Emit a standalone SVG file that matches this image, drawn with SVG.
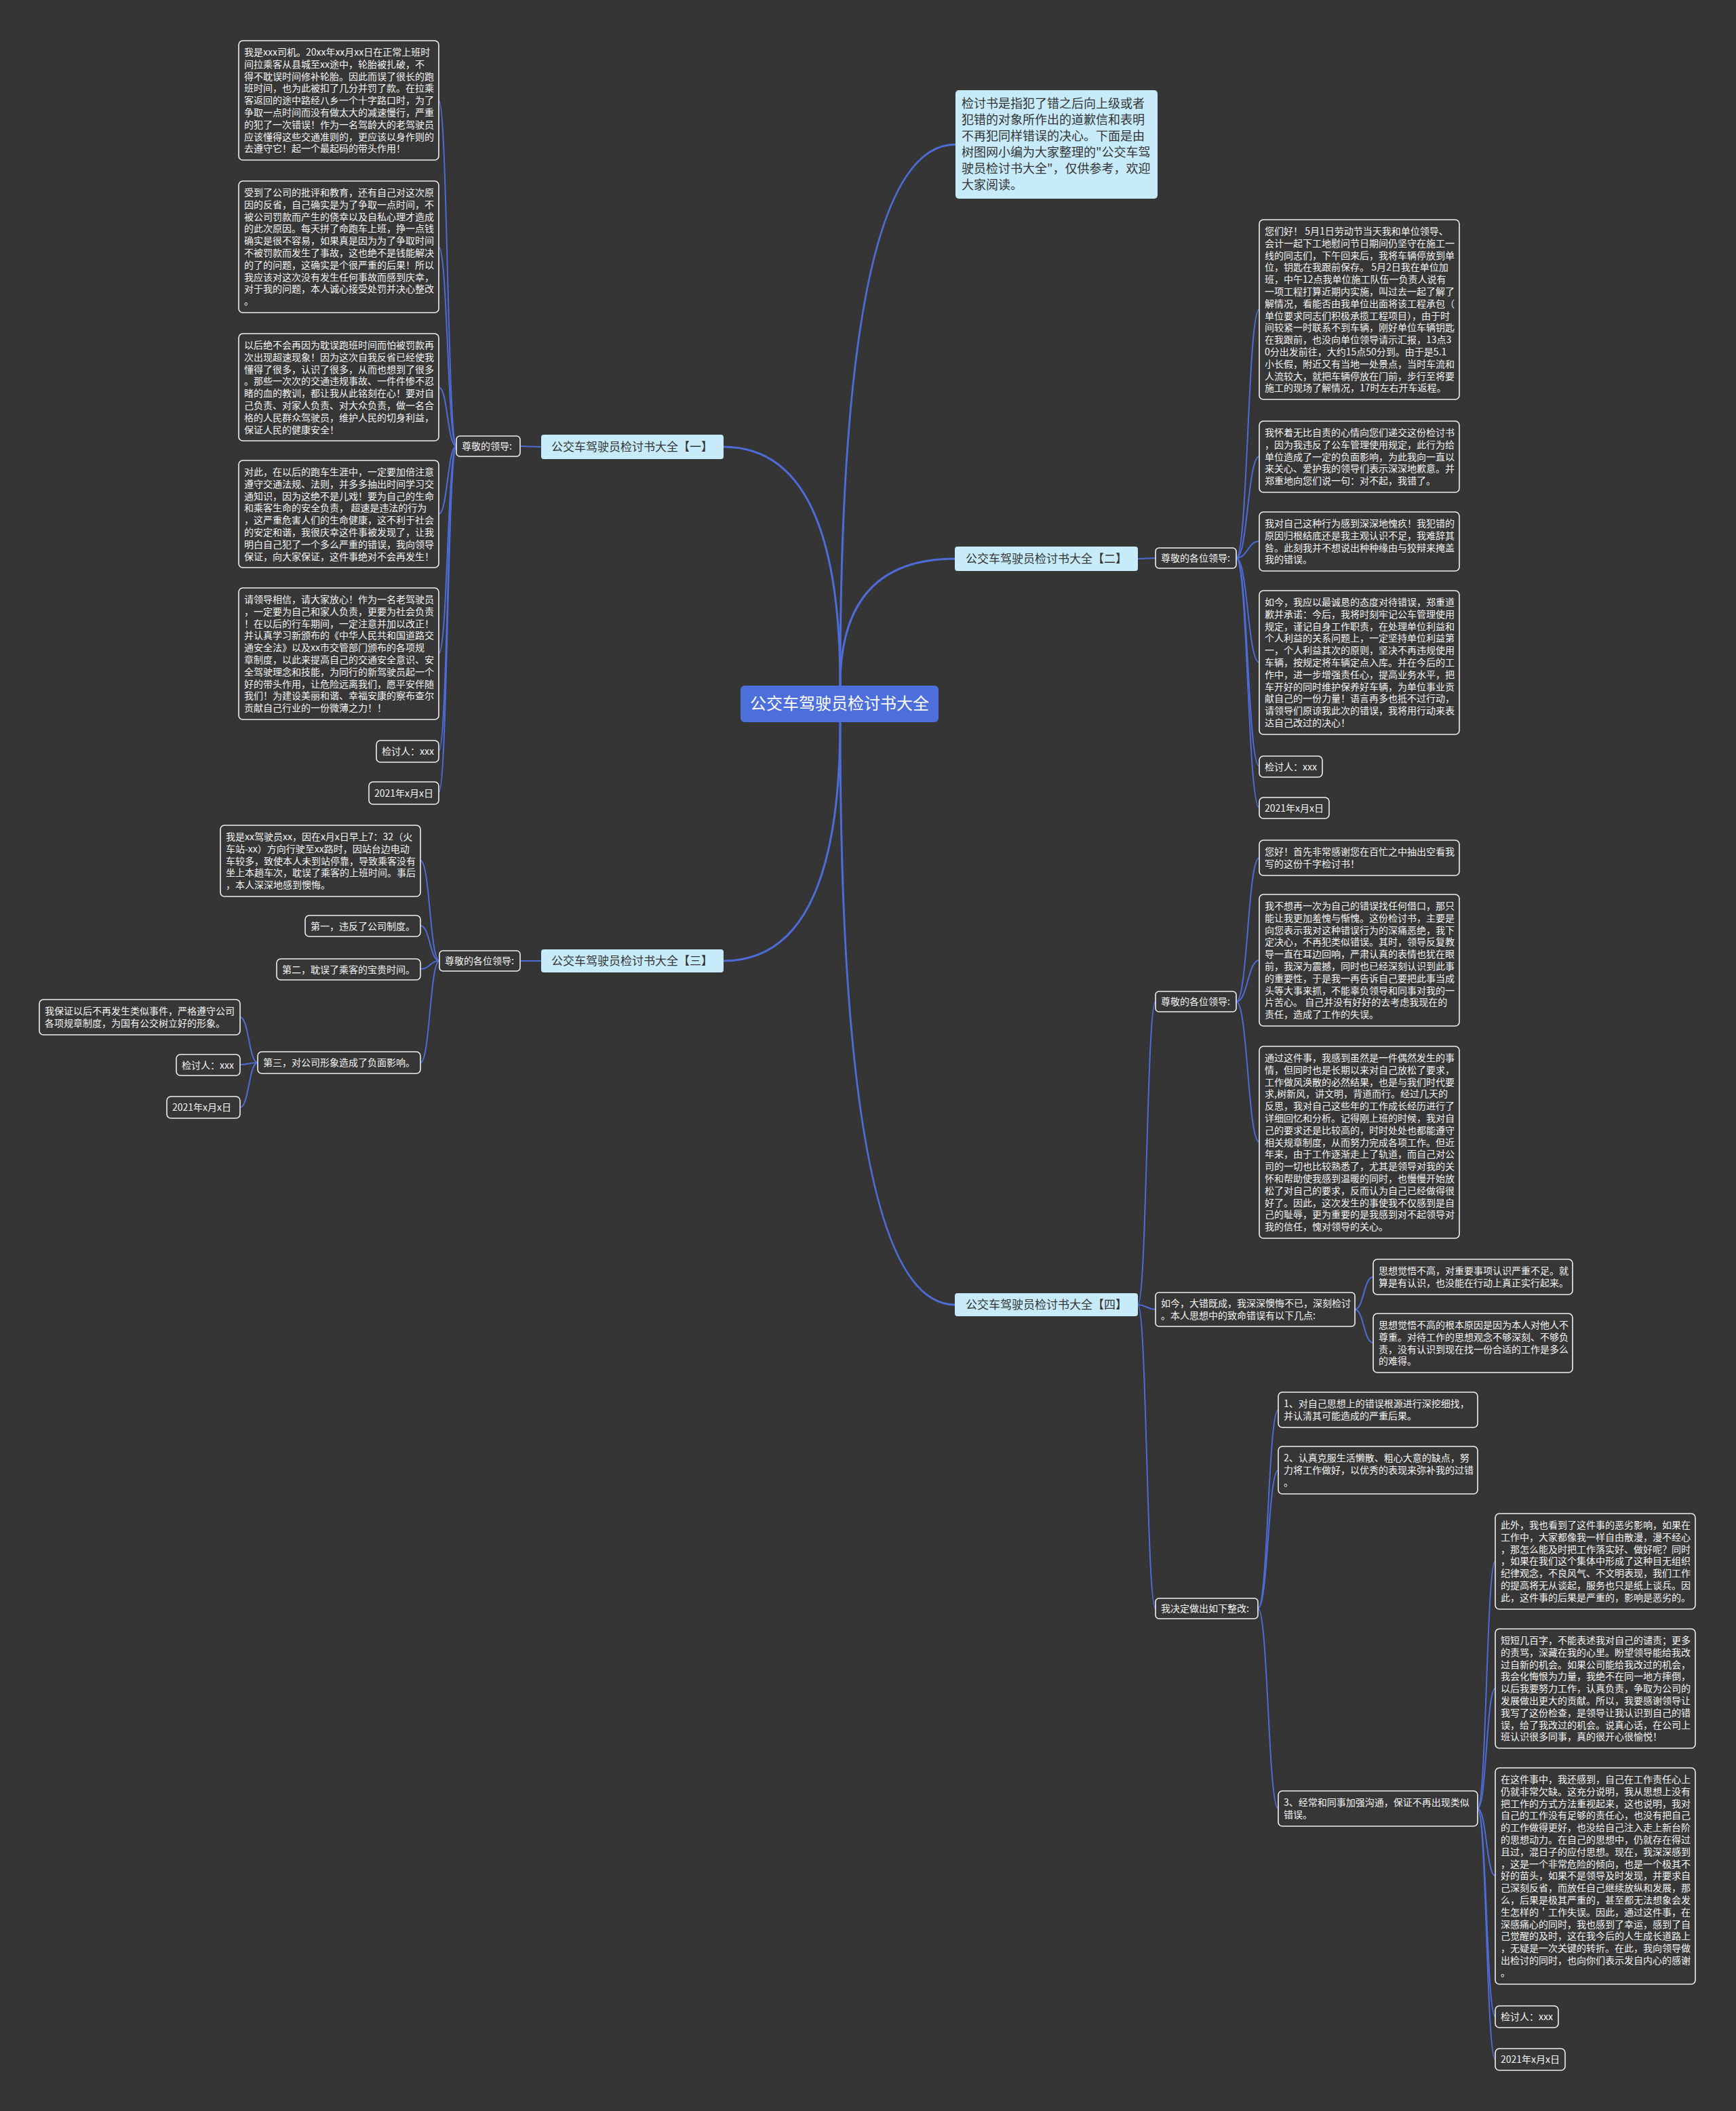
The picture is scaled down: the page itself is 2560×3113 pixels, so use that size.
<svg xmlns="http://www.w3.org/2000/svg" width="2560" height="3113" viewBox="0 0 2560 3113">
<style>
.bg{fill:#353535}
.box{fill:#363636;stroke:#f0f0f0;stroke-width:1.6}
.t{font-family:"Noto Sans CJK SC","Noto Sans",sans-serif;font-size:14px;fill:#f4f4f4}
.br{fill:#c8ebfa}
.bt{font-family:"Noto Sans CJK SC","Noto Sans",sans-serif;font-size:17px;fill:#333333;text-anchor:middle}
.it{font-family:"Noto Sans CJK SC","Noto Sans",sans-serif;font-size:18px;fill:#333333}
.ct{font-family:"Noto Sans CJK SC","Noto Sans",sans-serif;font-size:24px;fill:#ffffff;text-anchor:middle}
.c{fill:none;stroke:#4e6cd8;stroke-width:2}
.cm{fill:none;stroke:#4e6cd8;stroke-width:3}
</style>
<rect class="bg" x="0" y="0" width="2560" height="3113"/>

<g id="connectors">
<path class="cm" d="M1239,1011 Q1239,213 1409,213"/>
<path class="cm" d="M1239,1011 Q1239,659 1067,659"/>
<path class="cm" d="M1239,1011 Q1239,824 1408,824"/>
<path class="cm" d="M1239,1065 Q1239,1417 1067,1417"/>
<path class="cm" d="M1239,1065 Q1239,1924 1408,1924"/>
<!-- section 1 -->
<path class="c" d="M798,659 L767,658"/>
<path class="c" d="M673,658 C660,658 660,148 647,148"/>
<path class="c" d="M673,658 C660,658 660,364 647,364"/>
<path class="c" d="M673,658 C660,658 660,571 647,571"/>
<path class="c" d="M673,658 C660,658 660,758 647,758"/>
<path class="c" d="M673,658 C660,658 660,964 647,964"/>
<path class="c" d="M673,658 C660,658 660,1108 647,1108"/>
<path class="c" d="M673,658 C660,658 660,1169 647,1169"/>
<!-- section 2 -->
<path class="c" d="M1678,824 L1704,823"/>
<path class="c" d="M1823,823 C1840,823 1840,456 1857,456"/>
<path class="c" d="M1823,823 C1840,823 1840,673 1857,673"/>
<path class="c" d="M1823,823 C1840,823 1840,798 1857,798"/>
<path class="c" d="M1823,823 C1840,823 1840,977 1857,977"/>
<path class="c" d="M1823,823 C1840,823 1840,1130 1857,1130"/>
<path class="c" d="M1823,823 C1840,823 1840,1191 1857,1191"/>
<!-- section 3 -->
<path class="c" d="M798,1417 L767,1417"/>
<path class="c" d="M648,1417 C634,1417 634,1269 620,1269"/>
<path class="c" d="M648,1417 C634,1417 634,1365 620,1365"/>
<path class="c" d="M648,1417 C634,1417 634,1429 620,1429"/>
<path class="c" d="M648,1417 C634,1417 634,1567 620,1567"/>
<path class="c" d="M380,1567 C367,1567 367,1500 354,1500"/>
<path class="c" d="M380,1567 C367,1567 367,1570 354,1570"/>
<path class="c" d="M380,1567 C367,1567 367,1633 354,1633"/>
<!-- section 4 -->
<path class="c" d="M1678,1924 C1691,1924 1691,1477 1704,1477"/>
<path class="c" d="M1678,1924 C1691,1924 1691,1931 1704,1931"/>
<path class="c" d="M1678,1924 C1691,1924 1691,2372 1704,2372"/>
<path class="c" d="M1823,1477 C1840,1477 1840,1265 1857,1265"/>
<path class="c" d="M1823,1477 C1840,1477 1840,1416 1857,1416"/>
<path class="c" d="M1823,1477 C1840,1477 1840,1684 1857,1684"/>
<path class="c" d="M1998,1931 C2011,1931 2011,1883 2025,1883"/>
<path class="c" d="M1998,1931 C2011,1931 2011,1980 2025,1980"/>
<path class="c" d="M1855,2372 C1870,2372 1870,2079 1885,2079"/>
<path class="c" d="M1855,2372 C1870,2372 1870,2168 1885,2168"/>
<path class="c" d="M1855,2372 C1870,2372 1870,2667 1885,2667"/>
<path class="c" d="M2179,2667 C2192,2667 2192,2302 2205,2302"/>
<path class="c" d="M2179,2667 C2192,2667 2192,2490 2205,2490"/>
<path class="c" d="M2179,2667 C2192,2667 2192,2766 2205,2766"/>
<path class="c" d="M2179,2667 C2192,2667 2192,2974 2205,2974"/>
<path class="c" d="M2179,2667 C2192,2667 2192,3037 2205,3037"/>
</g>

<g id="center">
<rect x="1092" y="1011" width="292" height="54" rx="6" fill="#4d6fdc"/>
<text class="ct" x="1238" y="1046">公交车驾驶员检讨书大全</text>
</g>

<g id="intro">
<rect class="br" x="1409" y="133" width="298" height="160" rx="5"/>
<text class="it" x="1418" y="159"><tspan x="1418">检讨书是指犯了错之后向上级或者</tspan><tspan x="1418" dy="24">犯错的对象所作出的道歉信和表明</tspan><tspan x="1418" dy="24">不再犯同样错误的决心。下面是由</tspan><tspan x="1418" dy="24">树图网小编为大家整理的"公交车驾</tspan><tspan x="1418" dy="24">驶员检讨书大全"，仅供参考，欢迎</tspan><tspan x="1418" dy="24">大家阅读。</tspan></text>
</g>

<!-- SECTION 1 -->
<g id="branch1">
<rect class="br" x="798" y="641" width="269" height="36" rx="4"/>
<text class="bt" x="932" y="665">公交车驾驶员检讨书大全【一】</text>
</g>
<g id="label1">
<rect class="box" x="673" y="643" width="94" height="30" rx="5"/>
<text class="t" x="681" y="663">尊敬的领导:</text>
</g>
<g id="s1b1">
<rect class="box" x="352" y="60" width="295" height="176" rx="6"/>
<text class="t" x="360" y="82"><tspan x="360">我是xxx司机。20xx年xx月xx日在正常上班时</tspan><tspan x="360" dy="17.8">间拉乘客从县城至xx途中，轮胎被扎破，不</tspan><tspan x="360" dy="17.8">得不耽误时间修补轮胎。因此而误了很长的跑</tspan><tspan x="360" dy="17.8">班时间，也为此被扣了几分并罚了款。在拉乘</tspan><tspan x="360" dy="17.8">客返回的途中路经八乡一个十字路口时，为了</tspan><tspan x="360" dy="17.8">争取一点时间而没有做太大的减速慢行，严重</tspan><tspan x="360" dy="17.8">的犯了一次错误！作为一名驾龄大的老驾驶员</tspan><tspan x="360" dy="17.8">应该懂得这些交通准则的，更应该以身作则的</tspan><tspan x="360" dy="17.8">去遵守它！起一个最起码的带头作用！</tspan></text>
</g>
<g id="s1b2">
<rect class="box" x="352" y="267" width="295" height="194" rx="6"/>
<text class="t" x="360" y="289"><tspan x="360">受到了公司的批评和教育，还有自己对这次原</tspan><tspan x="360" dy="17.8">因的反省，自己确实是为了争取一点时间，不</tspan><tspan x="360" dy="17.8">被公司罚款而产生的侥幸以及自私心理才造成</tspan><tspan x="360" dy="17.8">的此次原因。每天拼了命跑车上班，挣一点钱</tspan><tspan x="360" dy="17.8">确实是很不容易，如果真是因为为了争取时间</tspan><tspan x="360" dy="17.8">不被罚款而发生了事故，这也绝不是钱能解决</tspan><tspan x="360" dy="17.8">的了的问题，这确实是个很严重的后果！所以</tspan><tspan x="360" dy="17.8">我应该对这次没有发生任何事故而感到庆幸，</tspan><tspan x="360" dy="17.8">对于我的问题，本人诚心接受处罚并决心整改</tspan><tspan x="360" dy="17.8">。</tspan></text>
</g>
<g id="s1b3">
<rect class="box" x="352" y="492" width="295" height="158" rx="6"/>
<text class="t" x="360" y="514"><tspan x="360">以后绝不会再因为耽误跑班时间而怕被罚款再</tspan><tspan x="360" dy="17.8">次出现超速现象！因为这次自我反省已经使我</tspan><tspan x="360" dy="17.8">懂得了很多，认识了很多，从而也想到了很多</tspan><tspan x="360" dy="17.8">。那些一次次的交通违规事故、一件件惨不忍</tspan><tspan x="360" dy="17.8">睹的血的教训，都让我从此铭刻在心！要对自</tspan><tspan x="360" dy="17.8">己负责、对家人负责、对大众负责，做一名合</tspan><tspan x="360" dy="17.8">格的人民群众驾驶员，维护人民的切身利益，</tspan><tspan x="360" dy="17.8">保证人民的健康安全！</tspan></text>
</g>
<g id="s1b4">
<rect class="box" x="352" y="679" width="295" height="158" rx="6"/>
<text class="t" x="360" y="701"><tspan x="360">对此，在以后的跑车生涯中，一定要加倍注意</tspan><tspan x="360" dy="17.8">遵守交通法规、法则，并多多抽出时间学习交</tspan><tspan x="360" dy="17.8">通知识，因为这绝不是儿戏！要为自己的生命</tspan><tspan x="360" dy="17.8">和乘客生命的安全负责， 超速是违法的行为</tspan><tspan x="360" dy="17.8">，这严重危害人们的生命健康，这不利于社会</tspan><tspan x="360" dy="17.8">的安定和谐，我很庆幸这件事被发现了，让我</tspan><tspan x="360" dy="17.8">明白自己犯了一个多么严重的错误，我向领导</tspan><tspan x="360" dy="17.8">保证，向大家保证，这件事绝对不会再发生！</tspan></text>
</g>
<g id="s1b5">
<rect class="box" x="352" y="867" width="295" height="194" rx="6"/>
<text class="t" x="360" y="889"><tspan x="360">请领导相信，请大家放心！作为一名老驾驶员</tspan><tspan x="360" dy="17.8">，一定要为自己和家人负责，更要为社会负责</tspan><tspan x="360" dy="17.8">！在以后的行车期间，一定注意并加以改正！</tspan><tspan x="360" dy="17.8">并认真学习新颁布的《中华人民共和国道路交</tspan><tspan x="360" dy="17.8">通安全法》以及xx市交管部门颁布的各项规</tspan><tspan x="360" dy="17.8">章制度，以此来提高自己的交通安全意识、安</tspan><tspan x="360" dy="17.8">全驾驶理念和技能，为同行的新驾驶员起一个</tspan><tspan x="360" dy="17.8">好的带头作用，让危险远离我们，愿平安伴随</tspan><tspan x="360" dy="17.8">我们！为建设美丽和谐、幸福安康的察布查尔</tspan><tspan x="360" dy="17.8">贡献自己行业的一份微薄之力！！</tspan></text>
</g>
<g id="s1b6">
<rect class="box" x="555" y="1092" width="92" height="32" rx="6"/>
<text class="t" x="563" y="1113">检讨人：xxx</text>
</g>
<g id="s1b7">
<rect class="box" x="544" y="1153" width="103" height="33" rx="6"/>
<text class="t" x="552" y="1175">2021年x月x日</text>
</g>

<!-- SECTION 2 -->
<g id="branch2">
<rect class="br" x="1408" y="806" width="270" height="36" rx="4"/>
<text class="bt" x="1543" y="830">公交车驾驶员检讨书大全【二】</text>
</g>
<g id="label2">
<rect class="box" x="1704" y="808" width="119" height="30" rx="5"/>
<text class="t" x="1712" y="828">尊敬的各位领导:</text>
</g>
<g id="s2b1">
<rect class="box" x="1857" y="324" width="295" height="265" rx="6"/>
<text class="t" x="1865" y="346"><tspan x="1865">您们好！ 5月1日劳动节当天我和单位领导、</tspan><tspan x="1865" dy="17.8">会计一起下工地慰问节日期间仍坚守在施工一</tspan><tspan x="1865" dy="17.8">线的同志们，下午回来后，我将车辆停放到单</tspan><tspan x="1865" dy="17.8">位，钥匙在我跟前保存。 5月2日我在单位加</tspan><tspan x="1865" dy="17.8">班，中午12点我单位施工队伍一负责人说有</tspan><tspan x="1865" dy="17.8">一项工程打算近期内实施，叫过去一起了解了</tspan><tspan x="1865" dy="17.8">解情况，看能否由我单位出面将该工程承包（</tspan><tspan x="1865" dy="17.8">单位要求同志们积极承揽工程项目），由于时</tspan><tspan x="1865" dy="17.8">间较紧一时联系不到车辆，刚好单位车辆钥匙</tspan><tspan x="1865" dy="17.8">在我跟前，也没向单位领导请示汇报，13点3</tspan><tspan x="1865" dy="17.8">0分出发前往，大约15点50分到。由于是5.1</tspan><tspan x="1865" dy="17.8">小长假，附近又有当地一处景点，当时车流和</tspan><tspan x="1865" dy="17.8">人流较大，就把车辆停放在门前，步行至将要</tspan><tspan x="1865" dy="17.8">施工的现场了解情况，17时左右开车返程。</tspan></text>
</g>
<g id="s2b2">
<rect class="box" x="1857" y="621" width="295" height="105" rx="6"/>
<text class="t" x="1865" y="643"><tspan x="1865">我怀着无比自责的心情向您们递交这份检讨书</tspan><tspan x="1865" dy="17.8">，因为我违反了公车管理使用规定，此行为给</tspan><tspan x="1865" dy="17.8">单位造成了一定的负面影响，为此我向一直以</tspan><tspan x="1865" dy="17.8">来关心、爱护我的领导们表示深深地歉意。并</tspan><tspan x="1865" dy="17.8">郑重地向您们说一句：对不起，我错了。</tspan></text>
</g>
<g id="s2b3">
<rect class="box" x="1857" y="755" width="295" height="87" rx="6"/>
<text class="t" x="1865" y="777"><tspan x="1865">我对自己这种行为感到深深地愧疚！我犯错的</tspan><tspan x="1865" dy="17.8">原因归根结底还是我主观认识不足，我难辞其</tspan><tspan x="1865" dy="17.8">咎。此刻我并不想说出种种缘由与狡辩来掩盖</tspan><tspan x="1865" dy="17.8">我的错误。</tspan></text>
</g>
<g id="s2b4">
<rect class="box" x="1857" y="871" width="295" height="212" rx="6"/>
<text class="t" x="1865" y="893"><tspan x="1865">如今，我应以最诚恳的态度对待错误，郑重道</tspan><tspan x="1865" dy="17.8">歉并承诺：今后，我将时刻牢记公车管理使用</tspan><tspan x="1865" dy="17.8">规定，谨记自身工作职责，在处理单位利益和</tspan><tspan x="1865" dy="17.8">个人利益的关系问题上，一定坚持单位利益第</tspan><tspan x="1865" dy="17.8">一，个人利益其次的原则，坚决不再违规使用</tspan><tspan x="1865" dy="17.8">车辆，按规定将车辆定点入库。并在今后的工</tspan><tspan x="1865" dy="17.8">作中，进一步增强责任心，提高业务水平，把</tspan><tspan x="1865" dy="17.8">车开好的同时维护保养好车辆，为单位事业贡</tspan><tspan x="1865" dy="17.8">献自己的一份力量！语言再多也抵不过行动，</tspan><tspan x="1865" dy="17.8">请领导们原谅我此次的错误，我将用行动来表</tspan><tspan x="1865" dy="17.8">达自己改过的决心！</tspan></text>
</g>
<g id="s2b5">
<rect class="box" x="1857" y="1115" width="93" height="31" rx="6"/>
<text class="t" x="1865" y="1136">检讨人：xxx</text>
</g>
<g id="s2b6">
<rect class="box" x="1857" y="1176" width="103" height="31" rx="6"/>
<text class="t" x="1865" y="1197">2021年x月x日</text>
</g>

<!-- SECTION 3 -->
<g id="branch3">
<rect class="br" x="798" y="1400" width="269" height="34" rx="4"/>
<text class="bt" x="932" y="1423">公交车驾驶员检讨书大全【三】</text>
</g>
<g id="label3">
<rect class="box" x="648" y="1402" width="119" height="30" rx="5"/>
<text class="t" x="656" y="1422">尊敬的各位领导:</text>
</g>
<g id="s3b1">
<rect class="box" x="325" y="1217" width="295" height="105" rx="6"/>
<text class="t" x="333" y="1239"><tspan x="333">我是xx驾驶员xx，因在x月x日早上7：32（火</tspan><tspan x="333" dy="17.8">车站-xx）方向行驶至xx路时，因站台边电动</tspan><tspan x="333" dy="17.8">车较多，致使本人未到站停靠，导致乘客没有</tspan><tspan x="333" dy="17.8">坐上本趟车次，耽误了乘客的上班时间。事后</tspan><tspan x="333" dy="17.8">，本人深深地感到懊悔。</tspan></text>
</g>
<g id="s3b2">
<rect class="box" x="450" y="1350" width="170" height="31" rx="6"/>
<text class="t" x="458" y="1371">第一，违反了公司制度。</text>
</g>
<g id="s3b3">
<rect class="box" x="408" y="1414" width="212" height="31" rx="6"/>
<text class="t" x="416" y="1435">第二，耽误了乘客的宝贵时间。</text>
</g>
<g id="s3b4">
<rect class="box" x="380" y="1551" width="240" height="32" rx="6"/>
<text class="t" x="388" y="1572">第三，对公司形象造成了负面影响。</text>
</g>
<g id="s3e1">
<rect class="box" x="58" y="1474" width="296" height="52" rx="6"/>
<text class="t" x="66" y="1496"><tspan x="66">我保证以后不再发生类似事件，严格遵守公司</tspan><tspan x="66" dy="17.8">各项规章制度，为国有公交树立好的形象。</tspan></text>
</g>
<g id="s3e2">
<rect class="box" x="260" y="1555" width="94" height="31" rx="6"/>
<text class="t" x="268" y="1576">检讨人：xxx</text>
</g>
<g id="s3e3">
<rect class="box" x="246" y="1617" width="108" height="32" rx="6"/>
<text class="t" x="254" y="1638">2021年x月x日</text>
</g>

<!-- SECTION 4 -->
<g id="branch4">
<rect class="br" x="1408" y="1907" width="270" height="34" rx="4"/>
<text class="bt" x="1543" y="1930">公交车驾驶员检讨书大全【四】</text>
</g>
<g id="label4a">
<rect class="box" x="1704" y="1462" width="119" height="30" rx="5"/>
<text class="t" x="1712" y="1482">尊敬的各位领导:</text>
</g>
<g id="label4b">
<rect class="box" x="1704" y="1906" width="294" height="50" rx="5"/>
<text class="t" x="1712" y="1927"><tspan x="1712">如今，大错既成，我深深懊悔不已，深刻检讨</tspan><tspan x="1712" dy="17.8">。本人思想中的致命错误有以下几点:</tspan></text>
</g>
<g id="label4c">
<rect class="box" x="1704" y="2357" width="151" height="30" rx="5"/>
<text class="t" x="1712" y="2377">我决定做出如下整改:</text>
</g>
<g id="s4f1">
<rect class="box" x="1857" y="1239" width="295" height="52" rx="6"/>
<text class="t" x="1865" y="1261"><tspan x="1865">您好！首先非常感谢您在百忙之中抽出空看我</tspan><tspan x="1865" dy="17.8">写的这份千字检讨书！</tspan></text>
</g>
<g id="s4f2">
<rect class="box" x="1857" y="1319" width="295" height="194" rx="6"/>
<text class="t" x="1865" y="1341"><tspan x="1865">我不想再一次为自己的错误找任何借口，那只</tspan><tspan x="1865" dy="17.8">能让我更加羞愧与惭愧。这份检讨书，主要是</tspan><tspan x="1865" dy="17.8">向您表示我对这种错误行为的深痛恶绝，我下</tspan><tspan x="1865" dy="17.8">定决心，不再犯类似错误。其时，领导反复教</tspan><tspan x="1865" dy="17.8">导一直在耳边回响，严肃认真的表情也犹在眼</tspan><tspan x="1865" dy="17.8">前，我深为震撼，同时也已经深刻认识到此事</tspan><tspan x="1865" dy="17.8">的重要性，于是我一再告诉自己要把此事当成</tspan><tspan x="1865" dy="17.8">头等大事来抓，不能辜负领导和同事对我的一</tspan><tspan x="1865" dy="17.8">片苦心。 自己并没有好好的去考虑我现在的</tspan><tspan x="1865" dy="17.8">责任，造成了工作的失误。</tspan></text>
</g>
<g id="s4f3">
<rect class="box" x="1857" y="1543" width="295" height="283" rx="6"/>
<text class="t" x="1865" y="1565"><tspan x="1865">通过这件事，我感到虽然是一件偶然发生的事</tspan><tspan x="1865" dy="17.8">情，但同时也是长期以来对自己放松了要求，</tspan><tspan x="1865" dy="17.8">工作做风涣散的必然结果，也是与我们时代要</tspan><tspan x="1865" dy="17.8">求,树新风，讲文明，背道而行。经过几天的</tspan><tspan x="1865" dy="17.8">反思，我对自己这些年的工作成长经历进行了</tspan><tspan x="1865" dy="17.8">详细回忆和分析。记得刚上班的时候，我对自</tspan><tspan x="1865" dy="17.8">己的要求还是比较高的，时时处处也都能遵守</tspan><tspan x="1865" dy="17.8">相关规章制度，从而努力完成各项工作。但近</tspan><tspan x="1865" dy="17.8">年来，由于工作逐渐走上了轨道，而自己对公</tspan><tspan x="1865" dy="17.8">司的一切也比较熟悉了，尤其是领导对我的关</tspan><tspan x="1865" dy="17.8">怀和帮助使我感到温暖的同时，也慢慢开始放</tspan><tspan x="1865" dy="17.8">松了对自己的要求，反而认为自己已经做得很</tspan><tspan x="1865" dy="17.8">好了。因此，这次发生的事使我不仅感到是自</tspan><tspan x="1865" dy="17.8">己的耻辱，更为重要的是我感到对不起领导对</tspan><tspan x="1865" dy="17.8">我的信任，愧对领导的关心。</tspan></text>
</g>
<g id="s4g1">
<rect class="box" x="2025" y="1857" width="294" height="52" rx="6"/>
<text class="t" x="2033" y="1879"><tspan x="2033">思想觉悟不高，对重要事项认识严重不足。就</tspan><tspan x="2033" dy="17.8">算是有认识，也没能在行动上真正实行起来。</tspan></text>
</g>
<g id="s4g2">
<rect class="box" x="2025" y="1937" width="294" height="87" rx="6"/>
<text class="t" x="2033" y="1959"><tspan x="2033">思想觉悟不高的根本原因是因为本人对他人不</tspan><tspan x="2033" dy="17.8">尊重。对待工作的思想观念不够深刻、不够负</tspan><tspan x="2033" dy="17.8">责，没有认识到现在找一份合适的工作是多么</tspan><tspan x="2033" dy="17.8">的难得。</tspan></text>
</g>
<g id="s4h1">
<rect class="box" x="1885" y="2053" width="294" height="52" rx="6"/>
<text class="t" x="1893" y="2075"><tspan x="1893">1、对自己思想上的错误根源进行深挖细找，</tspan><tspan x="1893" dy="17.8">并认清其可能造成的严重后果。</tspan></text>
</g>
<g id="s4h2">
<rect class="box" x="1885" y="2133" width="294" height="70" rx="6"/>
<text class="t" x="1893" y="2155"><tspan x="1893">2、认真克服生活懒散、粗心大意的缺点，努</tspan><tspan x="1893" dy="17.8">力将工作做好，以优秀的表现来弥补我的过错</tspan><tspan x="1893" dy="17.8">。</tspan></text>
</g>
<g id="s4h3">
<rect class="box" x="1885" y="2641" width="294" height="52" rx="6"/>
<text class="t" x="1893" y="2663"><tspan x="1893">3、经常和同事加强沟通，保证不再出现类似</tspan><tspan x="1893" dy="17.8">错误。</tspan></text>
</g>
<g id="s4i1">
<rect class="box" x="2205" y="2232" width="295" height="141" rx="6"/>
<text class="t" x="2213" y="2254"><tspan x="2213">此外，我也看到了这件事的恶劣影响，如果在</tspan><tspan x="2213" dy="17.8">工作中，大家都像我一样自由散漫，漫不经心</tspan><tspan x="2213" dy="17.8">，那怎么能及时把工作落实好、做好呢？同时</tspan><tspan x="2213" dy="17.8">，如果在我们这个集体中形成了这种目无组织</tspan><tspan x="2213" dy="17.8">纪律观念，不良风气、不文明表现，我们工作</tspan><tspan x="2213" dy="17.8">的提高将无从谈起，服务也只是纸上谈兵。因</tspan><tspan x="2213" dy="17.8">此，这件事的后果是严重的，影响是恶劣的。</tspan></text>
</g>
<g id="s4i2">
<rect class="box" x="2205" y="2402" width="295" height="176" rx="6"/>
<text class="t" x="2213" y="2424"><tspan x="2213">短短几百字，不能表述我对自己的谴责；更多</tspan><tspan x="2213" dy="17.8">的责骂，深藏在我的心里。盼望领导能给我改</tspan><tspan x="2213" dy="17.8">过自新的机会。如果公司能给我改过的机会，</tspan><tspan x="2213" dy="17.8">我会化悔恨为力量，我绝不在同一地方摔倒，</tspan><tspan x="2213" dy="17.8">以后我要努力工作，认真负责，争取为公司的</tspan><tspan x="2213" dy="17.8">发展做出更大的贡献。所以，我要感谢领导让</tspan><tspan x="2213" dy="17.8">我写了这份检查，是领导让我认识到自己的错</tspan><tspan x="2213" dy="17.8">误，给了我改过的机会。说真心话，在公司上</tspan><tspan x="2213" dy="17.8">班认识很多同事，真的很开心很愉悦！</tspan></text>
</g>
<g id="s4i3">
<rect class="box" x="2205" y="2607" width="295" height="319" rx="6"/>
<text class="t" x="2213" y="2629"><tspan x="2213">在这件事中，我还感到，自己在工作责任心上</tspan><tspan x="2213" dy="17.8">仍就非常欠缺。这充分说明，我从思想上没有</tspan><tspan x="2213" dy="17.8">把工作的方式方法重视起来，这也说明，我对</tspan><tspan x="2213" dy="17.8">自己的工作没有足够的责任心，也没有把自己</tspan><tspan x="2213" dy="17.8">的工作做得更好，也没给自己注入走上新台阶</tspan><tspan x="2213" dy="17.8">的思想动力。在自己的思想中，仍就存在得过</tspan><tspan x="2213" dy="17.8">且过，混日子的应付思想。现在，我深深感到</tspan><tspan x="2213" dy="17.8">，这是一个非常危险的倾向，也是一个极其不</tspan><tspan x="2213" dy="17.8">好的苗头，如果不是领导及时发现，并要求自</tspan><tspan x="2213" dy="17.8">己深刻反省，而放任自己继续放纵和发展，那</tspan><tspan x="2213" dy="17.8">么，后果是极其严重的，甚至都无法想象会发</tspan><tspan x="2213" dy="17.8">生怎样的＇工作失误。因此，通过这件事，在</tspan><tspan x="2213" dy="17.8">深感痛心的同时，我也感到了幸运，感到了自</tspan><tspan x="2213" dy="17.8">己觉醒的及时，这在我今后的人生成长道路上</tspan><tspan x="2213" dy="17.8">，无疑是一次关键的转折。在此，我向领导做</tspan><tspan x="2213" dy="17.8">出检讨的同时，也向你们表示发自内心的感谢</tspan><tspan x="2213" dy="17.8">。</tspan></text>
</g>
<g id="s4i4">
<rect class="box" x="2205" y="2958" width="93" height="32" rx="6"/>
<text class="t" x="2213" y="2979">检讨人：xxx</text>
</g>
<g id="s4i5">
<rect class="box" x="2205" y="3021" width="103" height="32" rx="6"/>
<text class="t" x="2213" y="3042">2021年x月x日</text>
</g>
</svg>
